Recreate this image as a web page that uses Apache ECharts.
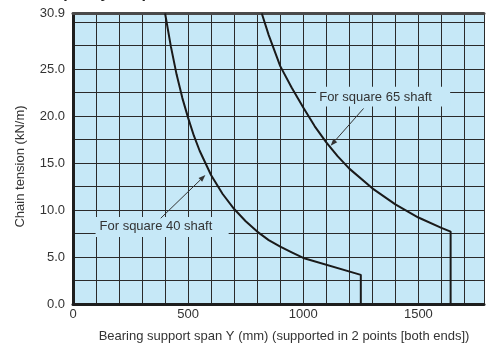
<!DOCTYPE html>
<html><head><meta charset="utf-8">
<script src="https://cdn.jsdelivr.net/npm/echarts@6/dist/echarts.min.js"></script>
<style>html,body{margin:0;padding:0;background:#fff}#c{width:487px;height:344px}</style>
</head><body><div id="c"></div>
<script>
// ---- data ----
const shaft40X = [400, 425, 450, 475, 500, 525, 550, 575, 600, 650, 700, 750, 800, 850, 900, 950, 1000, 1250, 1250];
const shaft40Y = [30.9, 27.4, 24.4, 21.9, 19.8, 17.9, 16.3, 15.0, 13.7, 11.7, 10.1, 8.8, 7.7, 6.8, 6.1, 5.5, 4.9, 3.1, 0];
const shaft65X = [820, 850, 900, 950, 1000, 1050, 1100, 1150, 1200, 1300, 1400, 1500, 1600, 1640, 1640];
const shaft65Y = [30.9, 28.6, 25.3, 23.0, 20.9, 18.9, 17.2, 15.7, 14.4, 12.3, 10.6, 9.2, 8.1, 7.7, 0];
const xTickLabels = [0, 500, 1000, 1500];
const yTickLabels = [0, 5, 10, 15, 20, 25, 30.9];
const seriesNames = ['For square 40 shaft', 'For square 65 shaft'];
const xAxisName = 'Bearing support span Y (mm) (supported in 2 points [both ends])';
const yAxisName = 'Chain tension (kN/m)';
const titleText = 'Allowable load capacity Graph';

// annotation anchors (data coordinates)
const notes = [
  {text: seriesNames[0], box: [98, 676, 7.13, 9.26], center: [360, 8.22], from: [381, 9.12], to: [575, 13.72]},
  {text: seriesNames[1], box: [1056, 1638, 21.0, 23.1], center: [1314, 21.95], from: [1262, 20.8], to: [1119, 16.84]}
];

const FONT = '"Liberation Sans", Arial, Helvetica, sans-serif';
const BG = '#C6E8F7';
const GRID = '#2a2a2a';
const TXT = '#333333';

const chart = echarts.init(document.getElementById('c'), null, {renderer: 'canvas'});
const zip = (xs, ys) => xs.map((x, i) => [x, ys[i]]);

const option = {
  animation: false,
  textStyle: {fontFamily: FONT},
  grid: {left: 73, right: 0, top: 13.5, bottom: 40, show: true, backgroundColor: BG, borderWidth: 0},
  xAxis: [{
    type: 'value', min: 0, max: 1785, interval: 100, position: 'bottom',
    axisLine: {show: true, onZero: false, lineStyle: {color: '#1e1e1e', width: 3}},
    axisTick: {show: false},
    axisLabel: {margin: 4, fontSize: 13, color: TXT, fontFamily: FONT, showMinLabel: true, showMaxLabel: true,
      formatter: v => xTickLabels.includes(v) ? String(v) : ''},
    splitLine: {show: true, lineStyle: {color: GRID, width: 1}}
  }, {
    type: 'value', min: 0, max: 1785, position: 'top',
    axisLine: {show: true, onZero: false, lineStyle: {color: '#4a4a4a', width: 3}},
    axisTick: {show: false}, axisLabel: {show: false}, splitLine: {show: false}
  }],
  yAxis: {
    type: 'value', min: 0, max: 30.9, interval: 2.5,
    axisLine: {show: true, onZero: false, lineStyle: {color: '#1e1e1e', width: 3}},
    axisTick: {show: false},
    axisLabel: {margin: 8, fontSize: 13, color: TXT, fontFamily: FONT, showMinLabel: true, showMaxLabel: true,
      formatter: v => yTickLabels.some(t => Math.abs(t - v) < 1e-6) ? v.toFixed(1) : ''},
    splitLine: {show: true, lineStyle: {color: GRID, width: 1}}
  },
  series: [
    {name: seriesNames[0], type: 'line', xAxisIndex: 0, data: zip(shaft40X, shaft40Y), showSymbol: false, smooth: false,
      lineStyle: {color: '#1a1a1a', width: 2}, z: 3},
    {name: seriesNames[1], type: 'line', xAxisIndex: 0, data: zip(shaft65X, shaft65Y), showSymbol: false, smooth: false,
      lineStyle: {color: '#1a1a1a', width: 2}, z: 3}
  ]
};
chart.setOption(option);

const px = p => chart.convertToPixel({xAxisIndex: 0, yAxisIndex: 0}, p);
const graphics = [];
notes.forEach(n => {
  const a = px([n.box[0], n.box[3]]), b = px([n.box[1], n.box[2]]);
  graphics.push({type: 'rect', shape: {x: a[0], y: a[1], width: b[0] - a[0], height: b[1] - a[1]},
    style: {fill: BG}, z: 10});
  const c = px(n.center);
  graphics.push({type: 'text', x: c[0], y: c[1], z: 11,
    style: {text: n.text, fill: TXT, font: '13px ' + FONT, align: 'center', verticalAlign: 'middle'}});
  const f = px(n.from), t = px(n.to);
  const dx = t[0] - f[0], dy = t[1] - f[1], L = Math.hypot(dx, dy);
  const ux = dx / L, uy = dy / L, hl = 7, hw = 2.6;
  const bx = t[0] - ux * hl, by = t[1] - uy * hl;
  graphics.push({type: 'line', z: 11, shape: {x1: f[0], y1: f[1], x2: bx, y2: by}, style: {stroke: '#333', lineWidth: 1}});
  graphics.push({type: 'polygon', z: 11, shape: {points: [[t[0], t[1]], [bx - uy * hw, by + ux * hw], [bx + uy * hw, by - ux * hw]]},
    style: {fill: '#333'}});
});
// axis names
graphics.push({type: 'text', x: 284, y: 336.5, z: 11,
  style: {text: xAxisName, fill: TXT, font: '13px ' + FONT, align: 'center', verticalAlign: 'middle'}});
graphics.push({type: 'text', x: 20.5, y: 166.5, rotation: Math.PI / 2, z: 11,
  style: {text: yAxisName, fill: TXT, font: '13px ' + FONT, align: 'center', verticalAlign: 'middle'}});
// clipped title at the very top
graphics.push({type: 'text', x: -71, y: 1.5, z: 11,
  style: {text: titleText, fill: '#222', font: 'bold 16px ' + FONT, align: 'left', verticalAlign: 'bottom'}});
chart.setOption({graphic: graphics});
</script>
</body></html>
